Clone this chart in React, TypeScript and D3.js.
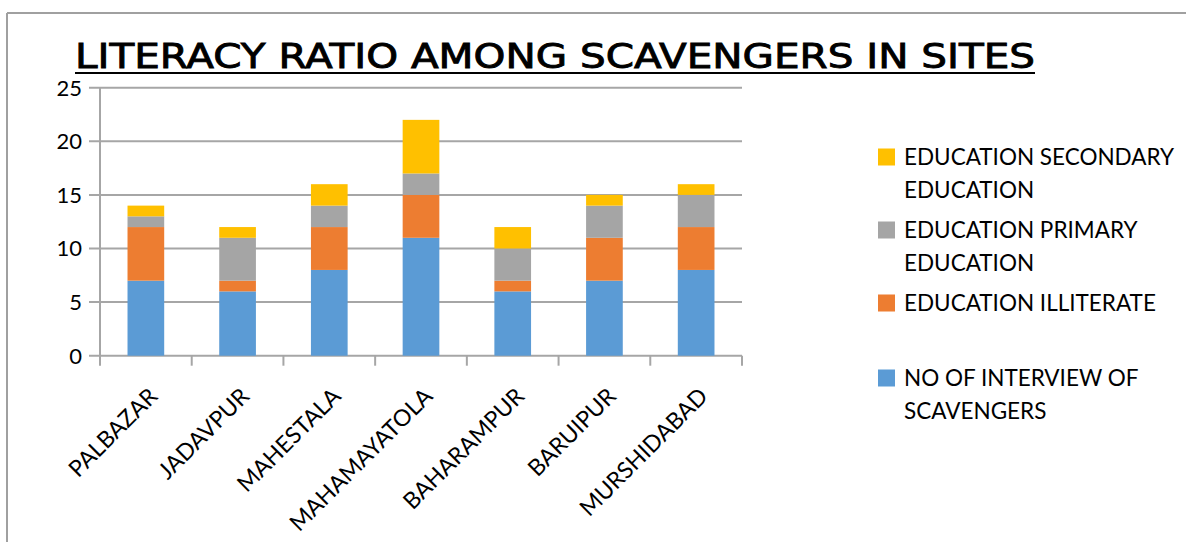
import React from "react";
import * as d3 from "d3";

const categories = ["PALBAZAR", "JADAVPUR", "MAHESTALA", "MAHAMAYATOLA", "BAHARAMPUR", "BARUIPUR", "MURSHIDABAD"];
const interviews = [7, 6, 8, 11, 6, 7, 8];
const illiterate = [5, 1, 4, 4, 1, 4, 4];
const primary = [1, 4, 2, 2, 3, 3, 3];
const secondary = [1, 1, 2, 5, 2, 1, 1];
const yTicks = [0, 5, 10, 15, 20, 25];

const seriesNames = [
  "NO OF INTERVIEW OF SCAVENGERS",
  "EDUCATION ILLITERATE",
  "EDUCATION PRIMARY EDUCATION",
  "EDUCATION SECONDARY EDUCATION",
];
const seriesValues = [interviews, illiterate, primary, secondary];
const colors = ["#5b9bd5", "#ed7d31", "#a5a5a5", "#ffc000"];

const legendLines: string[][] = [
  ["EDUCATION SECONDARY", "EDUCATION"],
  ["EDUCATION PRIMARY", "EDUCATION"],
  ["EDUCATION ILLITERATE"],
  ["NO OF INTERVIEW OF", "SCAVENGERS"],
];
const legendColors = [colors[3], colors[2], colors[1], colors[0]];
const legendY = [157, 230, 303, 378];

const title = "LITERACY RATIO AMONG SCAVENGERS IN SITES";

export default function App() {
  const W = 1186, H = 542;
  const left = 100, right = 742, top = 87.7, bottom = 355.7;
  const x = d3.scaleBand<string>().domain(categories).range([left, right]).paddingInner(0.6).paddingOuter(0.3);
  const y = d3.scaleLinear().domain([0, 25]).range([bottom, top]);
  const rows = categories.map((c, i) => {
    const r: any = { cat: c };
    seriesNames.forEach((s, j) => (r[s] = seriesValues[j][i]));
    return r;
  });
  const stacked = d3.stack<any>().keys(seriesNames)(rows);
  const step = (right - left) / categories.length;
  const boundaries = d3.range(categories.length + 1).map((i) => left + i * step);
  const grid = "#a6a6a6";
  const font = "Lato, 'Open Sans', sans-serif";

  return (
    <svg width={W} height={H} style={{ position: "absolute", left: 0, top: 0, background: "#fff" }}>
      <line x1={7} y1={13} x2={W} y2={13} stroke="#a0a0a0" strokeWidth={2} />
      <line x1={7} y1={13} x2={7} y2={H} stroke="#a0a0a0" strokeWidth={2} />
      <text x={75} y={68} fontFamily="'DejaVu Sans', sans-serif" fontSize={34} fill="#000"
        stroke="#000" strokeWidth={0.9}
        textLength={960} lengthAdjust="spacingAndGlyphs">{title}</text>
      <line x1={75} y1={73} x2={1035} y2={73} stroke="#000" strokeWidth={2} />

      {yTicks.map((t) => (
        <g key={t}>
          <line x1={left - 11} x2={right} y1={y(t)} y2={y(t)} stroke={grid} strokeWidth={2} />
          <text x={left - 18} y={y(t)} dy="0.36em" textAnchor="end" fontFamily={font} fontSize={22} fill="#000">{t}</text>
        </g>
      ))}
      <line x1={left} x2={left} y1={top} y2={bottom} stroke={grid} strokeWidth={2} />
      {boundaries.map((b, i) => (
        <line key={i} x1={b} x2={b} y1={bottom} y2={bottom + 10} stroke={grid} strokeWidth={2} />
      ))}

      {stacked.map((layer, j) => (
        <g key={layer.key} fill={colors[j]}>
          {layer.map((d, i) => (
            <rect key={i} x={x(categories[i])} width={x.bandwidth()} y={y(d[1])} height={y(d[0]) - y(d[1])} />
          ))}
        </g>
      ))}

      {categories.map((c) => {
        const cx = (x(c) as number) + x.bandwidth() / 2;
        return (
          <text key={c} transform={`translate(${cx + 13},${bottom + 42}) rotate(-45)`} textAnchor="end"
            fontFamily={font} fontSize={23} fill="#000">{c}</text>
        );
      })}

      {legendLines.map((lines, i) => (
        <g key={i}>
          <rect x={878} y={legendY[i] - 8.5} width={17} height={17} fill={legendColors[i]} />
          {lines.map((l, k) => (
            <text key={k} x={904} y={legendY[i] + k * 33} dy="0.36em" fontFamily={font} fontSize={22.5} fill="#000">{l}</text>
          ))}
        </g>
      ))}
    </svg>
  );
}
